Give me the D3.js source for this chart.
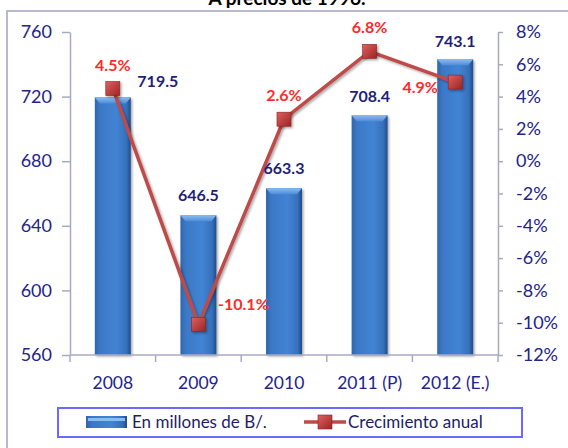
<!DOCTYPE html>
<html>
<head>
<meta charset="utf-8">
<script src="https://cdn.jsdelivr.net/npm/d3@7"></script>
<style>
  body { margin: 0; background: #fff; }
  svg { display: block; font-family: Lato, "Open Sans", sans-serif; }
</style>
</head>
<body>
<svg id="chart"></svg>
<script>
// data
const categories = ["2008", "2009", "2010", "2011 (P)", "2012 (E.)"];
const valores = [719.5, 646.5, 663.3, 708.4, 743.1];      // En millones de B/.
const crecimiento = [4.5, -10.1, 2.6, 6.8, 4.9];          // Crecimiento anual (%)
const leftTicks = [560, 600, 640, 680, 720, 760];
const rightTicks = [-12, -10, -8, -6, -4, -2, 0, 2, 4, 6, 8];
const titulo = "A precios de 1996.";
const legendNames = ["En millones de B/.", "Crecimiento anual"];

// label nudges (layout only)
const barLabelOff = [[45, -10], [0, -14], [0, -14], [0, -13], [0, -12]];
const pctLabelOff = [[0, -18], [45, -14], [0, -18], [0, -18], [-35, 11]];

const W = 568, H = 448;
const margin = { top: 32, left: 70, right: 70, bottom: 93 };
const innerW = 498 - margin.left;
const innerH = 355 - margin.top;

const svg = d3.select("#chart").attr("width", W).attr("height", H);

// defs: gradients + shadow
const defs = svg.append("defs");
const barGrad = defs.append("linearGradient").attr("id", "barGrad")
  .attr("x1", "0").attr("x2", "1").attr("y1", "0").attr("y2", "0");
barGrad.append("stop").attr("offset", "0%").attr("stop-color", "#2f66ad");
barGrad.append("stop").attr("offset", "15%").attr("stop-color", "#3b78c6");
barGrad.append("stop").attr("offset", "60%").attr("stop-color", "#4284d4");
barGrad.append("stop").attr("offset", "88%").attr("stop-color", "#3670bb");
barGrad.append("stop").attr("offset", "100%").attr("stop-color", "#1f4b88");

const topGrad = defs.append("linearGradient").attr("id", "topGrad")
  .attr("x1", "0").attr("x2", "0").attr("y1", "0").attr("y2", "1");
topGrad.append("stop").attr("offset", "0%").attr("stop-color", "#8bbcf0");
topGrad.append("stop").attr("offset", "100%").attr("stop-color", "#4c8dd9");

const mkGrad = defs.append("linearGradient").attr("id", "mkGrad")
  .attr("x1", "0").attr("x2", "1").attr("y1", "0").attr("y2", "1");
mkGrad.append("stop").attr("offset", "0%").attr("stop-color", "#e06060");
mkGrad.append("stop").attr("offset", "100%").attr("stop-color", "#9c2424");

const shadow = defs.append("filter").attr("id", "shadow")
  .attr("x", "-30%").attr("y", "-30%").attr("width", "170%").attr("height", "170%");
shadow.append("feDropShadow").attr("dx", 1.5).attr("dy", 1.5)
  .attr("stdDeviation", 1.2).attr("flood-color", "#000").attr("flood-opacity", 0.35);

// outer chart border (runs off the canvas on right and bottom)
svg.append("rect")
  .attr("x", 7).attr("y", 11).attr("width", 620).attr("height", 500)
  .attr("fill", "none").attr("stroke", "#b8b8d0").attr("stroke-width", 2);

// title, mostly cut off at top like the source image
svg.append("text")
  .attr("x", 287).attr("y", 5)
  .attr("text-anchor", "middle")
  .style("font-size", "19px").style("font-weight", "bold").attr("fill", "#000")
  .text(titulo);

const chart = svg.append("g").attr("transform", `translate(${margin.left},${margin.top})`);

const x = d3.scaleBand().domain(categories).range([0, innerW]).paddingInner(0.58).paddingOuter(0.29);
const yL = d3.scaleLinear().domain([560, 760]).range([innerH, 0]);
const yR = d3.scaleLinear().domain([-12, 8]).range([innerH, 0]);
const cx = c => x(c) + x.bandwidth() / 2;

const axisColor = "#a9a9c6";
const tickText = "#23238a";

// left axis
const axL = chart.append("g").attr("class", "axis")
  .call(d3.axisLeft(yL).tickValues(leftTicks).tickSize(8).tickPadding(10).tickSizeOuter(0));
// right axis
const axR = chart.append("g").attr("class", "axis")
  .attr("transform", `translate(${innerW},0)`)
  .call(d3.axisRight(yR).tickValues(rightTicks).tickSize(5).tickPadding(13).tickSizeOuter(0)
    .tickFormat(d => d + "%"));

[axL, axR].forEach(a => {
  a.select(".domain").attr("stroke", axisColor).attr("stroke-width", 1.5);
  a.selectAll(".tick line").attr("stroke", axisColor).attr("stroke-width", 1.5);
  a.selectAll(".tick text").attr("fill", tickText)
    .style("font-size", "18px").style("font-family", "Lato, sans-serif");
});

// bars
const bars = chart.selectAll(".bar").data(valores).join("g").attr("class", "bar");
bars.append("rect")
  .attr("x", (d, i) => x(categories[i]))
  .attr("y", d => yL(d))
  .attr("width", x.bandwidth())
  .attr("height", d => innerH - yL(d))
  .attr("fill", "url(#barGrad)")
  .attr("filter", "url(#shadow)");
bars.append("path")
  .attr("d", (d, i) => {
    const x0 = x(categories[i]), x1 = x0 + x.bandwidth(), y0 = yL(d);
    return `M${x0},${y0}L${x1},${y0}L${x1 - 5},${y0 + 6}L${x0 + 5},${y0 + 6}Z`;
  })
  .attr("fill", "url(#topGrad)");

// x axis line + category separators
const xAxis = chart.append("g").attr("transform", `translate(0,${innerH})`);
xAxis.append("line").attr("x1", 0).attr("x2", innerW)
  .attr("stroke", axisColor).attr("stroke-width", 1.5);
xAxis.selectAll(".sep").data(d3.range(categories.length + 1)).join("line")
  .attr("x1", i => i * innerW / categories.length).attr("x2", i => i * innerW / categories.length)
  .attr("y1", 0).attr("y2", 7)
  .attr("stroke", axisColor).attr("stroke-width", 1.5);
xAxis.selectAll(".cat").data(categories).join("text")
  .attr("x", d => cx(d)).attr("y", 34)
  .attr("text-anchor", "middle").attr("fill", tickText)
  .style("font-size", "17.5px")
  .text(d => d);

// growth line
const line = d3.line().x((d, i) => cx(categories[i])).y(d => yR(d));
chart.append("path")
  .datum(crecimiento)
  .attr("d", line)
  .attr("fill", "none")
  .attr("stroke", "#be4b48")
  .attr("stroke-width", 3.5)
  .attr("filter", "url(#shadow)");

chart.selectAll(".mk").data(crecimiento).join("rect")
  .attr("x", (d, i) => cx(categories[i]) - 7)
  .attr("y", d => yR(d) - 7)
  .attr("width", 14).attr("height", 14)
  .attr("fill", "url(#mkGrad)")
  .attr("stroke", "#8e2020").attr("stroke-width", 0.6)
  .attr("filter", "url(#shadow)");

// data labels
chart.selectAll(".vlab").data(valores).join("text")
  .attr("x", (d, i) => cx(categories[i]) + barLabelOff[i][0])
  .attr("y", d => yL(d)).attr("dy", (d, i) => barLabelOff[i][1])
  .attr("text-anchor", "middle")
  .attr("fill", "#1f1f78")
  .style("font-size", "16px").style("font-weight", "bold")
  .text(d => d.toFixed(1));

chart.selectAll(".plab").data(crecimiento).join("text")
  .attr("x", (d, i) => cx(categories[i]) + pctLabelOff[i][0])
  .attr("y", d => yR(d)).attr("dy", (d, i) => pctLabelOff[i][1])
  .attr("text-anchor", "middle")
  .attr("fill", "#ff2a2a")
  .style("font-size", "16px").style("font-weight", "bold")
  .text(d => d.toFixed(1) + "%");

// legend
const lg = svg.append("g");
lg.append("rect").attr("x", 58).attr("y", 408).attr("width", 464).attr("height", 29)
  .attr("fill", "#fff").attr("stroke", "#6a6aff").attr("stroke-width", 2);
lg.append("rect").attr("x", 86).attr("y", 416).attr("width", 41).attr("height", 12)
  .attr("fill", "url(#barGrad)");
lg.append("rect").attr("x", 88).attr("y", 418).attr("width", 37).attr("height", 3)
  .attr("fill", "#8bbcf0");
lg.append("text").attr("x", 132).attr("y", 428)
  .attr("fill", "#1e1e66").style("font-size", "17px").text(legendNames[0]);
lg.append("line").attr("x1", 304).attr("x2", 346).attr("y1", 422).attr("y2", 422)
  .attr("stroke", "#be4b48").attr("stroke-width", 3.5);
lg.append("rect").attr("x", 318).attr("y", 415).attr("width", 14).attr("height", 14)
  .attr("fill", "url(#mkGrad)").attr("stroke", "#8e2020").attr("stroke-width", 0.6);
lg.append("text").attr("x", 348).attr("y", 428)
  .attr("fill", "#1e1e66").style("font-size", "17px").text(legendNames[1]);
</script>
</body>
</html>
